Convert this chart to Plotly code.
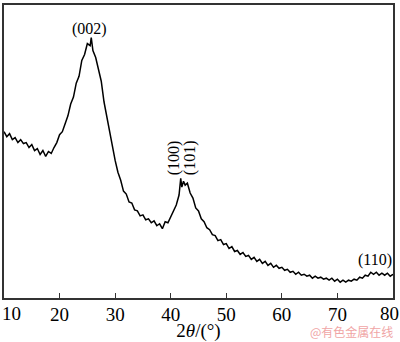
import plotly.graph_objects as go

two_theta = [10.0, 10.5, 11.0, 11.5, 12.0, 12.5, 13.0, 13.5, 14.0, 14.5, 15.0, 15.5, 16.0, 16.5, 17.0, 17.5,
             18.0, 18.5, 19.0, 19.5, 20.0, 20.5, 21.0, 21.5, 22.0, 22.5, 23.0, 23.5, 24.0, 24.5, 25.0, 25.5,
             25.7, 26.0, 26.5, 27.0, 27.5, 28.0, 28.5, 29.0, 29.5, 30.0, 30.5, 31.0, 31.5, 32.0, 32.5, 33.0,
             33.5, 34.0, 34.5, 35.0, 35.5, 36.0, 36.5, 37.0, 37.5, 38.0, 38.5, 39.0, 39.5, 40.0, 40.5, 41.0,
             41.5, 41.8, 42.0, 42.3, 42.6, 43.0, 43.5, 44.0, 44.5, 45.0, 45.5, 46.0, 46.5, 47.0, 47.5, 48.0,
             48.5, 49.0, 49.5, 50.0, 50.5, 51.0, 51.5, 52.0, 52.5, 53.0, 53.5, 54.0, 54.5, 55.0, 55.5, 56.0,
             56.5, 57.0, 57.5, 58.0, 58.5, 59.0, 59.5, 60.0, 60.5, 61.0, 61.5, 62.0, 62.5, 63.0, 63.5, 64.0,
             64.5, 65.0, 65.5, 66.0, 66.5, 67.0, 67.5, 68.0, 68.5, 69.0, 69.5, 70.0, 70.5, 71.0, 71.5, 72.0,
             72.5, 73.0, 73.5, 74.0, 74.5, 75.0, 75.5, 76.0, 76.5, 77.0, 77.5, 78.0, 78.5, 79.0, 79.5, 80.0]
intensity = [168, 163, 166, 160, 162, 157, 160, 156, 157, 152, 155, 149, 151, 145, 149, 143,
             148, 146, 152, 157, 165, 168, 176, 184, 196, 203, 217, 224, 240, 246, 257, 255,
             263, 250, 243, 231, 219, 198, 183, 168, 150, 139, 127, 119, 108, 105, 97, 96,
             89, 88, 83, 84, 79, 80, 76, 78, 73, 75, 70, 77, 76, 82, 87, 94,
             104, 121, 112, 118, 114, 116, 106, 101, 91, 88, 80, 77, 71, 69, 64, 63,
             58, 59, 54, 55, 50, 52, 47, 48, 44, 46, 42, 43, 39, 41, 37, 39,
             35, 37, 33, 35, 31, 33, 30, 31, 28, 29, 26, 27, 24, 26, 23, 24,
             22, 23, 20, 22, 20, 21, 19, 20, 18, 20, 17, 19, 16, 18, 16, 18,
             17, 19, 18, 21, 20, 23, 22, 26, 24, 26, 23, 25, 23, 25, 22, 24]

tick_vals = [10, 20, 30, 40, 50, 60, 70, 80]
tick_text = ["", "20", "30", "40", "50", "60", "70", ""]

peak_labels = ["(002)", "(100)", "(101)", "(110)"]
peak_x = [25.3, 40.75, 43.6, 76.8]
peak_y = [272, 142, 142, 38]
peak_angle = [0, -90, -90, 0]

serif = "Liberation Serif"

fig = go.Figure()
fig.add_trace(go.Scatter(x=two_theta, y=intensity, mode="lines",
                         line=dict(color="black", width=1.5), showlegend=False))

for t, x, y, a in zip(peak_labels, peak_x, peak_y, peak_angle):
    fig.add_annotation(x=x, y=y, text=t, showarrow=False, textangle=a,
                       font=dict(family=serif, size=16, color="black"))

fig.add_annotation(x=10, y=0, yref="paper", yanchor="top", xanchor="left", xshift=-4, yshift=-3,
                   text="10", showarrow=False, font=dict(family=serif, size=19, color="black"))
fig.add_annotation(x=80, y=0, yref="paper", yanchor="top", xanchor="center", xshift=-4, yshift=-3,
                   text="80", showarrow=False, font=dict(family=serif, size=19, color="black"))
fig.add_annotation(x=1.0, y=-0.115, xref="paper", yref="paper", xanchor="right", yanchor="middle",
                   xshift=2, text="@有色金属在线", showarrow=False,
                   font=dict(family="Noto Sans CJK SC", size=12, color="rgb(240,165,165)"))

fig.update_xaxes(range=[10, 80], tickvals=tick_vals, ticktext=tick_text, ticks="inside", ticklen=5,
                 tickcolor="#333", tickwidth=1, showline=True, linecolor="#333", linewidth=2, mirror=True,
                 showgrid=False, zeroline=False, ticklabelstandoff=-2,
                 tickfont=dict(family=serif, size=19, color="black"),
                 title=dict(text="2<i>θ</i>/(°)", font=dict(family=serif, size=19, color="black"), standoff=1))
fig.update_yaxes(range=[0, 296], showticklabels=False, ticks="", showline=True, linecolor="#333",
                 linewidth=2, mirror=True, showgrid=False, zeroline=False)
fig.update_layout(width=400, height=342, margin=dict(l=4, r=7, t=3, b=44),
                  paper_bgcolor="white", plot_bgcolor="white",
                  font=dict(family=serif, color="black"))
fig.write_html("out.html", config={"displayModeBar": False},
               post_script="document.body.style.margin='0';document.body.style.overflow='hidden';")
